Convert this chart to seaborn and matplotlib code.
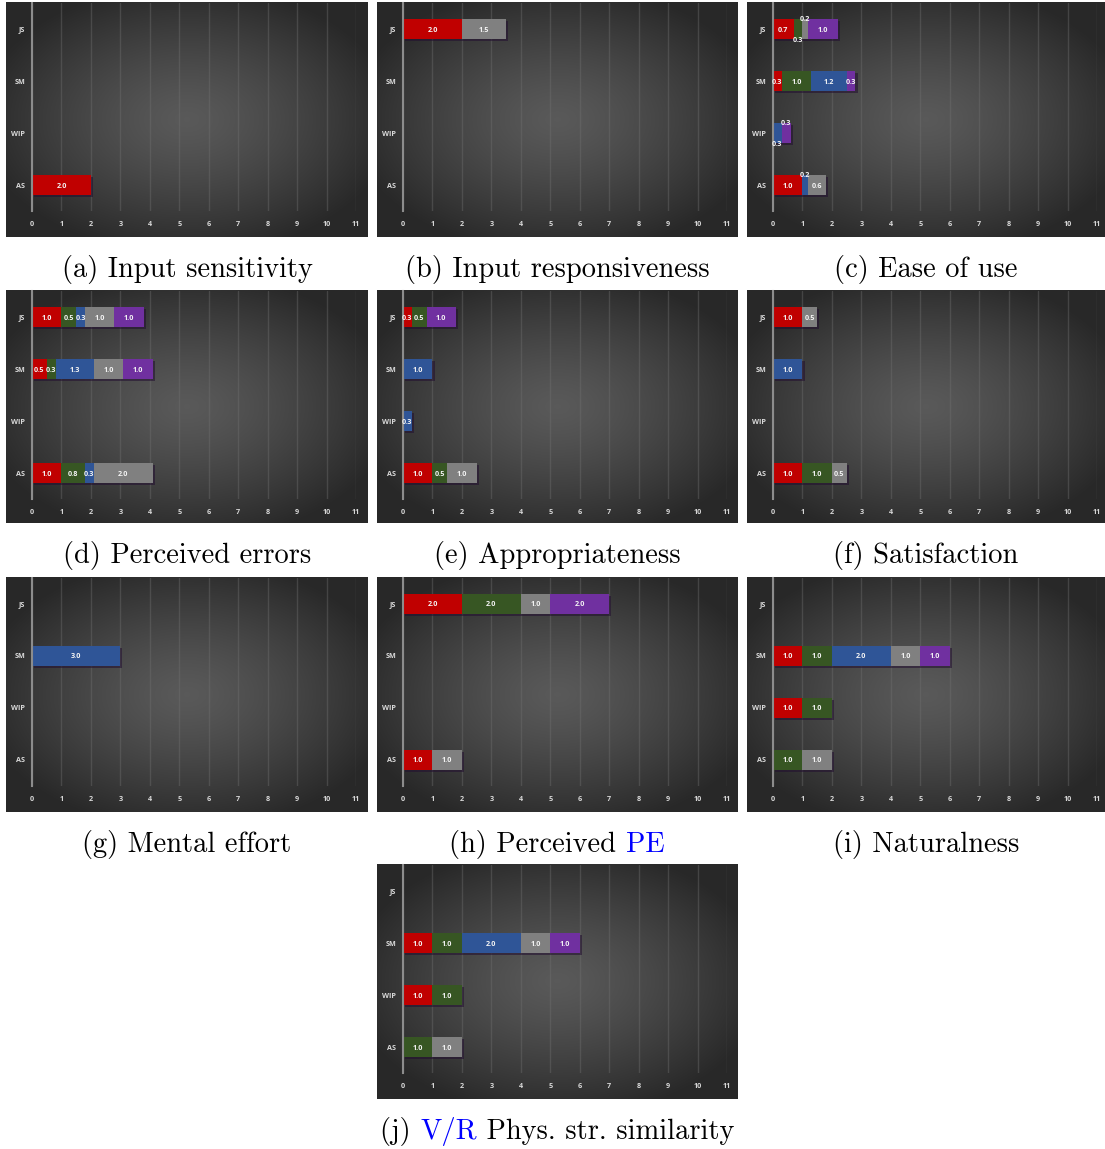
import numpy as np
import matplotlib
matplotlib.use("Agg")
import matplotlib.pyplot as plt
import matplotlib.patheffects as pe
import seaborn as sns

# Respondent groups (top to bottom) and the five stacked response classes
categories = ["JS", "SM", "WIP", "AS"]
class_colors = ["#C00000", "#375623", "#2F5597", "#808080", "#7030A0"]

# One row per group (JS, SM, WIP, AS), one column per response class
input_sensitivity = [[0, 0, 0, 0, 0], [0, 0, 0, 0, 0], [0, 0, 0, 0, 0], [2.0, 0, 0, 0, 0]]
input_responsiveness = [[2.0, 0, 0, 1.5, 0], [0, 0, 0, 0, 0], [0, 0, 0, 0, 0], [0, 0, 0, 0, 0]]
ease_of_use = [[0.7, 0.3, 0, 0.2, 1.0], [0.3, 1.0, 1.2, 0, 0.3], [0, 0, 0.3, 0, 0.3], [1.0, 0, 0.2, 0.6, 0]]
perceived_errors = [[1.0, 0.5, 0.3, 1.0, 1.0], [0.5, 0.3, 1.3, 1.0, 1.0], [0, 0, 0, 0, 0], [1.0, 0.8, 0.3, 2.0, 0]]
appropriateness = [[0.3, 0.5, 0, 0, 1.0], [0, 0, 1.0, 0, 0], [0, 0, 0.3, 0, 0], [1.0, 0.5, 0, 1.0, 0]]
satisfaction = [[1.0, 0, 0, 0.5, 0], [0, 0, 1.0, 0, 0], [0, 0, 0, 0, 0], [1.0, 1.0, 0, 0.5, 0]]
mental_effort = [[0, 0, 0, 0, 0], [0, 0, 3.0, 0, 0], [0, 0, 0, 0, 0], [0, 0, 0, 0, 0]]
perceived_pe = [[2.0, 2.0, 0, 1.0, 2.0], [0, 0, 0, 0, 0], [0, 0, 0, 0, 0], [1.0, 0, 0, 1.0, 0]]
naturalness = [[0, 0, 0, 0, 0], [1.0, 1.0, 2.0, 1.0, 1.0], [1.0, 1.0, 0, 0, 0], [0, 1.0, 0, 1.0, 0]]
vr_similarity = [[0, 0, 0, 0, 0], [1.0, 1.0, 2.0, 1.0, 1.0], [1.0, 1.0, 0, 0, 0], [0, 1.0, 0, 1.0, 0]]

BLACK, BLUE = "black", "#0000FF"
captions = [
    [("(a) Input sensitivity", BLACK)],
    [("(b) Input responsiveness", BLACK)],
    [("(c) Ease of use", BLACK)],
    [("(d) Perceived errors", BLACK)],
    [("(e) Appropriateness", BLACK)],
    [("(f) Satisfaction", BLACK)],
    [("(g) Mental effort", BLACK)],
    [("(h) Perceived ", BLACK), ("PE", BLUE)],
    [("(i) Naturalness", BLACK)],
    [("(j) ", BLACK), ("V/R", BLUE), (" Phys. str. similarity", BLACK)],
]
panels = [input_sensitivity, input_responsiveness, ease_of_use, perceived_errors,
          appropriateness, satisfaction, mental_effort, perceived_pe,
          naturalness, vr_similarity]

W, H = 1105, 1149
sns.set_theme(style="white")
plt.rcParams["font.family"] = ["Open Sans", "DejaVu Sans"]

fig = plt.figure(figsize=(W / 100, H / 100), dpi=100, facecolor="white")

col_px = [(6, 368), (377, 737), (747, 1105)]
row_px = [(2, 237), (290, 523), (577, 812), (864, 1099)]
slots = [(r, c) for r in range(3) for c in range(3)] + [(3, 1)]


def px_rect(x0, y0, x1, y1):
    return [x0 / W, 1 - y1 / H, (x1 - x0) / W, (y1 - y0) / H]


# radial vignette used as the chart-area fill
gy, gx = np.mgrid[-1:1:200j, -1:1:300j]
rad = np.clip(np.sqrt(gx ** 2 + gy ** 2) / 1.15, 0, 1)
shade = 0.35 - (0.35 - 0.16) * rad ** 1.3
vignette = np.dstack([shade, shade, shade])


def label_offsets(vals):
    """Vertical nudge for labels of narrow segments so they don't collide."""
    offs = []
    for k, v in enumerate(vals):
        if v <= 0:
            offs.append(None)
            continue
        prev_v = next((vals[j] for j in range(k - 1, -1, -1) if vals[j] > 0), None)
        next_v = next((vals[j] for j in range(k + 1, len(vals)) if vals[j] > 0), None)
        if v < 0.25:
            offs.append(-0.2)
        elif v < 0.35 and prev_v is not None and prev_v < 0.35:
            offs.append(-0.2)
        elif v < 0.35 and next_v is not None and next_v < 0.35:
            offs.append(0.2)
        else:
            offs.append(0.0)
    return offs


for idx, (data, cap) in enumerate(zip(panels, captions)):
    r, c = slots[idx]
    x0, x1 = col_px[c]
    y0, y1 = row_px[r]

    bg = fig.add_axes(px_rect(x0, y0, x1, y1), zorder=0)
    bg.imshow(vignette, aspect="auto", extent=[0, 1, 0, 1], interpolation="bicubic")
    bg.set_axis_off()

    ax = fig.add_axes(px_rect(x0 + 26, y0 + 1, x0 + 350, y0 + 209), zorder=1)
    ax.set_facecolor("none")

    vals = np.array(data, dtype=float)
    cum = np.cumsum(vals, axis=1)
    # stacked bars: draw running totals from the outermost class inwards
    for i in range(vals.shape[1] - 1, -1, -1):
        n_before = len(ax.patches)
        sns.barplot(x=cum[:, i], y=categories, order=categories, orient="h",
                    color=class_colors[i], saturation=1, width=0.4,
                    errorbar=None, linewidth=0, ax=ax)
        if i == vals.shape[1] - 1:
            for p in ax.patches[n_before:]:
                p.set_path_effects([pe.SimplePatchShadow(offset=(1.5, -1.5), alpha=0.55),
                                    pe.Normal()])

    for ci in range(len(categories)):
        offs = label_offsets(vals[ci])
        for i, v in enumerate(vals[ci]):
            if v <= 0:
                continue
            xc = cum[ci, i] - v / 2
            ax.text(xc, ci + offs[i], f"{v:.1f}", ha="center", va="center_baseline",
                    color="#f4f4f4", fontsize=5.2, fontweight="bold", zorder=5)

    ax.set_xlim(0, 11)
    ax.set_ylim(3.5, -0.5)
    ax.set_xticks(range(0, 12))
    ax.set_xlabel("")
    ax.set_ylabel("")
    ax.xaxis.grid(True, color="#707070", linewidth=1.0, alpha=0.4)
    ax.yaxis.grid(False)
    ax.set_axisbelow(True)
    for side in ["top", "right", "bottom"]:
        ax.spines[side].set_visible(False)
    ax.spines["left"].set_color("#8c8c8c")
    ax.spines["left"].set_linewidth(1.5)
    ax.tick_params(axis="both", length=0, colors="#d9d9d9", labelsize=5.2)
    ax.tick_params(axis="x", pad=7)
    ax.tick_params(axis="y", pad=5)
    for t in ax.get_xticklabels() + ax.get_yticklabels():
        t.set_fontweight("bold")

    # caption below the panel, centred, pieces laid out side by side
    xc_fig = (x0 + x1) / 2 / W
    yb_fig = 1 - (y1 + 40) / H
    texts = [fig.text(0, yb_fig, s, color=col, fontsize=20.5, family="cmr10",
                      ha="left", va="baseline") for s, col in cap]
    renderer = fig.canvas.get_renderer()
    widths = [t.get_window_extent(renderer).width / W for t in texts]
    start = xc_fig - sum(widths) / 2
    for t, w in zip(texts, widths):
        t.set_x(start)
        start += w

fig.savefig("out.png", dpi=100, facecolor="white")
